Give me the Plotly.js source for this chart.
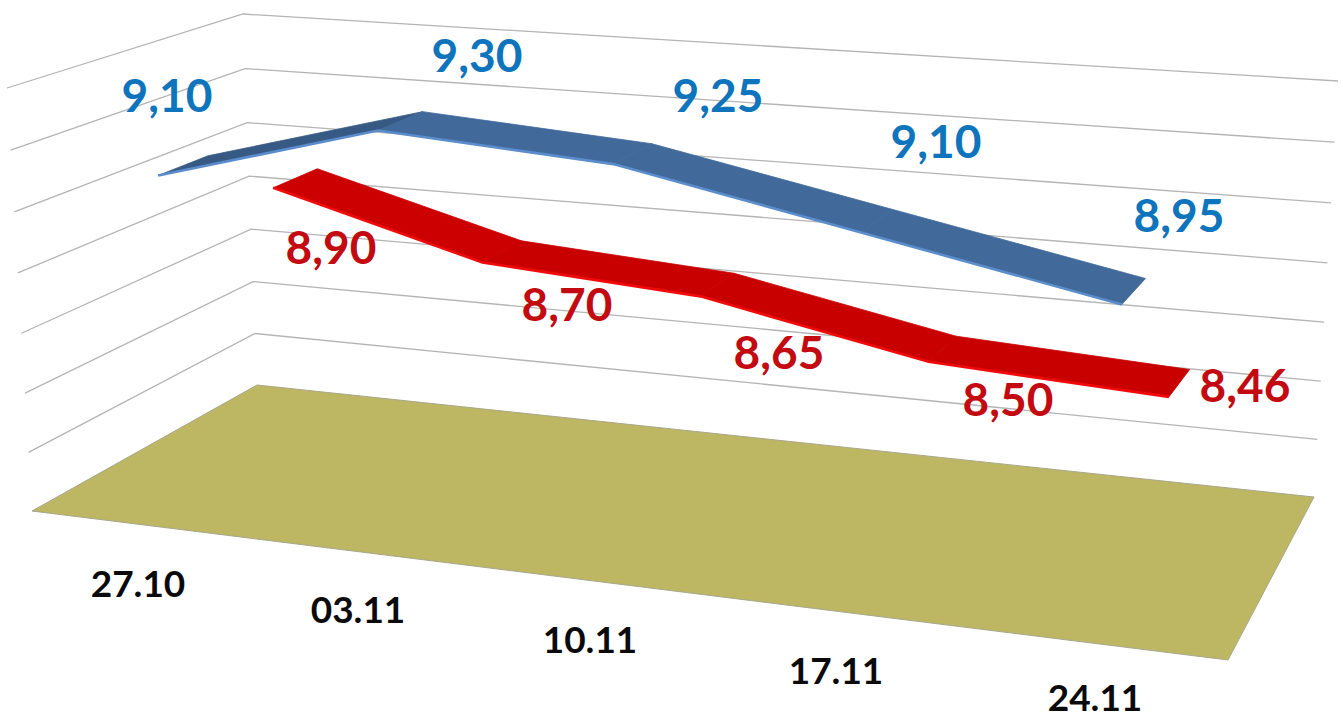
<!DOCTYPE html>
<html><head><meta charset="utf-8">
<script src="https://cdn.plot.ly/plotly-3.0.1.min.js"></script>
<style>html,body{margin:0;padding:0;background:#fff;overflow:hidden}#c{width:1343px;height:719px}</style>
</head><body><div id="c"></div>
<script>
// ---- chart data ----
const categories = ['27.10','03.11','10.11','17.11','24.11'];
const seriesBlue = [9.10, 9.30, 9.25, 9.10, 8.95];
const seriesRed  = [8.90, 8.70, 8.65, 8.50, 8.46];
const labelsBlue = ['9,10','9,30','9,25','9,10','8,95'];
const labelsRed  = ['8,90','8,70','8,65','8,50','8,46'];
const gridValues = [8.2, 8.4, 8.6, 8.8, 9.0, 9.2, 9.4];
const axisMin = 8.0, axisMax = 9.4;

// ---- 3-D box as seen on the page (pinhole view of the chart walls) ----
const floorQuad = [[32,511],[1228,660],[1314,497],[257,385]];
const roofQuad  = [[7,88],[1251,178],[1338,81],[243,14]];
const heightPerspective = 1.035;
const homography = q => {
  const [[x0,y0],[x1,y1],[x2,y2],[x3,y3]] = q;
  const dx1=x1-x2, dx2=x3-x2, sx=x0-x1+x2-x3, dy1=y1-y2, dy2=y3-y2, sy=y0-y1+y2-y3;
  const den=dx1*dy2-dx2*dy1, g=(sx*dy2-dx2*sy)/den, h=(dx1*sy-sx*dy1)/den;
  const a=x1-x0+g*x1, b=x3-x0+h*x3, d=y1-y0+g*y1, e=y3-y0+h*y3;
  return (u,w)=>{const k=g*u+h*w+1; return [(a*u+b*w+x0)/k,(d*u+e*w+y0)/k];};
};
const floorH = homography(floorQuad), roofH = homography(roofQuad);
const project = (u,w,val) => {
  const s=(val-axisMin)/(axisMax-axisMin), t=s/(s+(1-s)*heightPerspective), f=floorH(u,w), r=roofH(u,w);
  return [f[0]+t*(r[0]-f[0]), f[1]+t*(r[1]-f[1])];
};
const catU = i => (i+0.5)/categories.length;

const traces = [];
// gridlines on the two walls
{
  const x=[],y=[];
  gridValues.forEach(v=>{
    [[0,0],[0,1],[1,1]].forEach(([u,w])=>{const p=project(u,w,v);x.push(p[0]);y.push(p[1]);});
    x.push(null);y.push(null);
  });
  traces.push({x,y,mode:'lines',line:{color:'#b4b4b4',width:1.3},hoverinfo:'skip'});
}
// floor
{
  const pts=[[0,0],[1,0],[1,1],[0,1],[0,0]].map(([u,w])=>project(u,w,axisMin));
  traces.push({x:pts.map(p=>p[0]),y:pts.map(p=>p[1]),mode:'lines',fill:'toself',fillcolor:'#bdb764',
    line:{color:'#a9a68a',width:1},hoverinfo:'skip'});
}
// ribbons
function ribbon(vals,w0,w1,top,lip,lipW,firstTop){
  for(let i=0;i<vals.length-1;i++){
    const a=project(catU(i),w0,vals[i]),b=project(catU(i+1),w0,vals[i+1]),
          c=project(catU(i+1),w1,vals[i+1]),d=project(catU(i),w1,vals[i]);
    const col=(i===0&&firstTop)?firstTop:top;
    traces.push({x:[a[0],b[0],c[0],d[0],a[0]],y:[a[1],b[1],c[1],d[1],a[1]],mode:'lines',fill:'toself',
      fillcolor:col,line:{color:col,width:0.8},hoverinfo:'skip'});
  }
  const fx=[],fy=[];
  vals.forEach((v,i)=>{const p=project(catU(i),w0,v);fx.push(p[0]);fy.push(p[1]);});
  traces.push({x:fx,y:fy,mode:'lines',line:{color:lip,width:lipW},hoverinfo:'skip'});
}
ribbon(seriesBlue,0.15,0.36,'#41699a','#5b8ccc',2.6,'#375a85');
ribbon(seriesRed,0.645,0.86,'#c80000','#f20a0a',2.6,'#cc0000');

// text
const bluePos=[[167,100],[477,60],[718,100],[936,146],[1179,220]];
const redPos=[[331,252],[567,309],[779,357],[1008,404],[1245,390]];
const catPos=[[138,588],[358,614],[590,644],[836,675],[1095,702]];
const textTrace=(pos,text,size,color)=>({x:pos.map(p=>p[0]),y:pos.map(p=>p[1]),text,mode:'text',
  textposition:'middle center',textfont:{family:'Lato, Carlito, sans-serif',size,color,weight:700},hoverinfo:'skip'});
traces.push(textTrace(bluePos,labelsBlue,46,'#0e74bc'));
traces.push(textTrace(redPos,labelsRed,46,'#c20a10'));
traces.push(textTrace(catPos,categories,37,'#0a0a0a'));

Plotly.newPlot('c',traces,{
  width:1343,height:719,margin:{l:0,r:0,t:0,b:0},showlegend:false,
  paper_bgcolor:'#fff',plot_bgcolor:'#fff',
  xaxis:{range:[0,1343],visible:false,fixedrange:true},
  yaxis:{range:[719,0],visible:false,fixedrange:true}
},{displayModeBar:false,staticPlot:true});
</script></body></html>
